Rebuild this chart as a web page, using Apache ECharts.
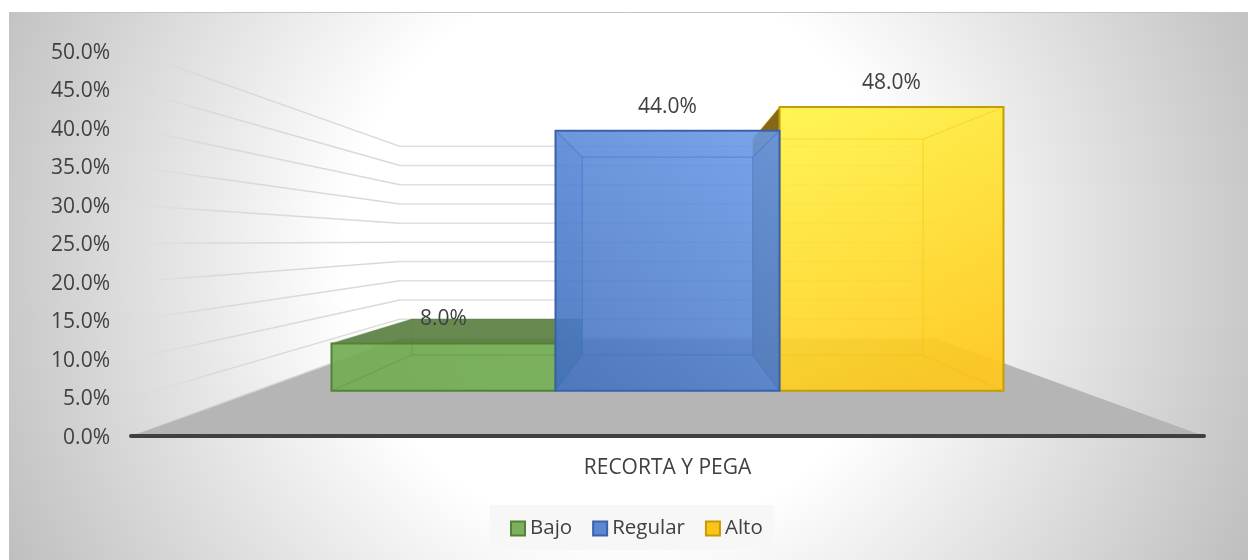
<!DOCTYPE html>
<html>
<head>
<meta charset="utf-8">
<style>
  html, body { margin: 0; padding: 0; background: #fff; }
  #chart { width: 1248px; height: 560px; }
</style>
</head>
<body>
<div id="chart"></div>
<script src="https://cdn.jsdelivr.net/npm/echarts@6/dist/echarts.min.js"></script>
<script>
const categories = ['RECORTA Y PEGA']
const seriesNames = ['Bajo', 'Regular', 'Alto']
const bajoValues = [8]
const regularValues = [44]
const altoValues = [48]
const yTicks = [0, 5, 10, 15, 20, 25, 30, 35, 40, 45, 50]

const font = '"Open Sans", sans-serif'
const textColor = '#404040'

// caras de cada barra: frente, cara lateral oscura, borde
const barStyles = [
  { top: 'rgba(118,176,86,0.92)', bottom: 'rgba(116,172,84,0.92)', dir: [0.75, 0, 0.25, 1], side: 'rgba(88,125,62,0.9)', line: '#548235', inner: 'rgba(84,130,53,0.3)', legend: '#7cb05c' },
  { top: 'rgba(104,152,231,0.88)', bottom: 'rgba(66,113,190,0.88)', dir: [0.95, 0, 0.1, 1], side: 'rgba(90,130,200,0.25)', line: '#3a62a8', inner: 'rgba(60,110,200,0.45)', legend: '#5b87d0' },
  { top: 'rgba(255,243,66,0.9)', bottom: 'rgba(255,200,25,0.9)', dir: [0.1, 0, 0.6, 1], side: 'rgba(132,104,22,1)', line: '#c49c06', inner: 'rgba(235,190,0,0.35)', legend: '#fcc419' }
]

// perspectiva 3D: escala de profundidad de cada plano
const depthBack = 0.4987
const depthBarFront = 0.7675
const depthBarBack = 0.584
const horizonValue = 25.3
const barWidthRate = 0.272

const chart = echarts.init(document.getElementById('chart'))

function projector (api) {
  const vx = api.coord([0, 0])[0]
  const vy = api.coord([0, horizonValue])[1]
  return (x, y, s) => [vx + s * (x - vx), vy + s * (y - vy)]
}

function renderFloor (params, api) {
  const p = projector(api)
  const band = api.size([1, 0])[0]
  const cx = api.coord([0, 0])[0]
  const y0 = api.coord([0, 0])[1]
  const l = cx - band / 2
  const r = cx + band / 2
  return {
    type: 'polygon',
    shape: { points: [[l, y0], [r, y0], p(r, y0, depthBack), p(l, y0, depthBack)] },
    style: { fill: '#b5b5b5' }
  }
}

function renderGrid (params, api) {
  const p = projector(api)
  const band = api.size([1, 0])[0]
  const cx = api.coord([0, 0])[0]
  const y = api.coord([0, api.value(1)])[1]
  const l = cx - band / 2
  const r = cx + band / 2
  const a = p(l, y, depthBack)
  const b = p(r, y, depthBack)
  return {
    type: 'group',
    children: [
      {
        type: 'line',
        shape: { x1: l, y1: y, x2: a[0], y2: a[1] },
        style: {
          lineWidth: 1.5,
          stroke: {
            type: 'linear',
            x: l,
            y: 0,
            x2: a[0],
            y2: 0,
            global: true,
            colorStops: [
              { offset: 0, color: 'rgba(214,214,214,0)' },
              { offset: 0.3, color: 'rgba(214,214,214,0.85)' },
              { offset: 1, color: '#d9d9d9' }
            ]
          }
        }
      },
      {
        type: 'line',
        shape: { x1: a[0], y1: a[1], x2: b[0], y2: b[1] },
        style: { lineWidth: 1.5, stroke: '#e0e0e0' }
      }
    ]
  }
}

function makeBarRenderer (index) {
  return (params, api) => {
    const p = projector(api)
    const st = barStyles[index]
    const band = api.size([1, 0])[0]
    const cx = api.coord([0, 0])[0]
    const value = api.value(1)
    const y0 = api.coord([0, 0])[1]
    const y1 = api.coord([0, value])[1]
    const w = band * barWidthRate
    const l = cx + (index - 1.5) * w
    const r = l + w

    const fbl = p(l, y0, depthBarFront)
    const fbr = p(r, y0, depthBarFront)
    const ftl = p(l, y1, depthBarFront)
    const ftr = p(r, y1, depthBarFront)
    const bbl = p(l, y0, depthBarBack)
    const bbr = p(r, y0, depthBarBack)
    const btl = p(l, y1, depthBarBack)
    const btr = p(r, y1, depthBarBack)

    const inner = (a, b) => ({
      type: 'line',
      shape: { x1: a[0], y1: a[1], x2: b[0], y2: b[1] },
      style: { stroke: st.inner, lineWidth: 1.2 }
    })
    const face = (pts, fill) => ({ type: 'polygon', shape: { points: pts }, style: { fill } })

    const children = []
    if (index === 0) {
      children.push(face([ftl, ftr, btr, btl], st.side))
      children.push(face([ftr, btr, bbr, fbr], st.side))
    } else if (index === 2) {
      children.push(face([ftl, btl, bbl, fbl], st.side))
    } else {
      children.push(face([ftr, btr, bbr, fbr], st.side))
      children.push(face([ftl, btl, bbl, fbl], st.side))
    }
    if (index === 2) {
      children.push(face([ftr, btr, bbr, fbr], 'rgba(255,232,90,0.16)'))
    }
    children.push({
      type: 'polygon',
      shape: { points: [ftl, ftr, fbr, fbl] },
      style: {
        fill: new echarts.graphic.LinearGradient(st.dir[0], st.dir[1], st.dir[2], st.dir[3], [
          { offset: 0, color: st.top },
          { offset: 1, color: st.bottom }
        ]),
        stroke: st.line,
        lineWidth: 2
      }
    })
    children.push(inner(btl, btr), inner(btl, bbl), inner(btr, bbr), inner(bbl, bbr))
    children.push(inner(fbl, bbl), inner(fbr, bbr), inner(ftl, btl), inner(ftr, btr))
    children.push({
      type: 'text',
      style: {
        text: value.toFixed(1) + '%',
        x: (ftl[0] + ftr[0]) / 2,
        y: ftl[1] - 24,
        fill: textColor,
        font: '21px ' + font,
        align: 'center',
        verticalAlign: 'middle'
      }
    })
    return { type: 'group', children }
  }
}

const barValues = [bajoValues, regularValues, altoValues]

const option = {
  animation: false,
  textStyle: { fontFamily: font },
  graphic: [
    {
      type: 'rect',
      z: -100,
      silent: true,
      shape: { x: 9, y: 12, width: 1239, height: 548 },
      style: {
        fill: {
          type: 'radial',
          x: 625,
          y: 255,
          r: 700,
          global: true,
          colorStops: [
            { offset: 0, color: '#ffffff' },
            { offset: 0.4, color: '#ffffff' },
            { offset: 1, color: '#bdbdbd' }
          ]
        }
      }
    },
    {
      type: 'line',
      z: -99,
      silent: true,
      shape: { x1: 9, y1: 12.5, x2: 1248, y2: 12.5 },
      style: { stroke: '#c4c4c4', lineWidth: 1 }
    }
  ],
  legend: {
    left: 490,
    top: 505,
    padding: [13, 11, 11, 20],
    itemWidth: 14,
    itemHeight: 14,
    itemGap: 20,
    icon: 'rect',
    backgroundColor: '#f7f7f7',
    textStyle: { color: textColor, fontSize: 20.5, fontFamily: font, padding: [0, 0, 2, 0] },
    data: seriesNames.map((name, i) => ({
      name,
      itemStyle: { color: barStyles[i].legend, borderColor: barStyles[i].line, borderWidth: 2 }
    }))
  },
  grid: { left: 131, right: 44, top: 51, bottom: 124 },
  xAxis: {
    type: 'category',
    data: categories,
    z: 3,
    axisTick: { show: false },
    axisLine: { lineStyle: { color: textColor, width: 4, cap: 'round' } },
    axisLabel: { color: textColor, fontSize: 21, fontFamily: font, margin: 22 }
  },
  yAxis: {
    type: 'value',
    min: 0,
    max: 50,
    interval: 5,
    splitLine: { show: false },
    axisLine: { show: false },
    axisTick: { show: false },
    axisLabel: {
      color: textColor,
      fontSize: 21,
      fontFamily: font,
      margin: 21,
      verticalAlign: 'top',
      lineHeight: 4,
      formatter: v => v.toFixed(1) + '%'
    }
  },
  series: [
    {
      type: 'custom',
      name: 'floor',
      z: 1,
      silent: true,
      renderItem: renderFloor,
      data: [[0, 0]]
    },
    {
      type: 'custom',
      name: 'grid',
      z: 2,
      silent: true,
      renderItem: renderGrid,
      encode: { x: 0, y: 1 },
      data: yTicks.map(t => [0, t])
    }
  ].concat(seriesNames.map((name, i) => ({
    type: 'custom',
    name,
    z: i === 1 ? 5 : 4,
    renderItem: makeBarRenderer(i),
    itemStyle: { color: barStyles[i].legend },
    encode: { x: 0, y: 1 },
    data: barValues[i].map((v, c) => [c, v])
  })))
}

chart.setOption(option)
</script>
</body>
</html>
